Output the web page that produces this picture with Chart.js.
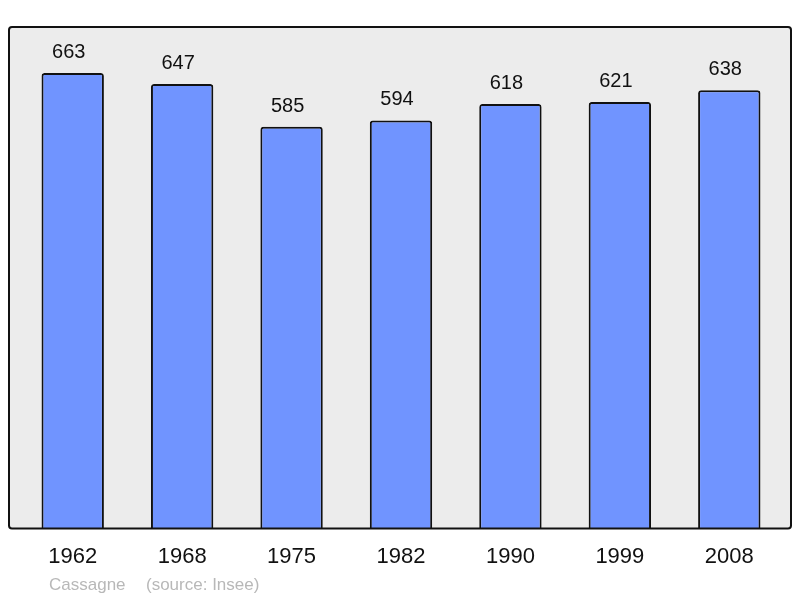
<!DOCTYPE html>
<html>
<head>
<meta charset="utf-8">
<script src="https://cdn.jsdelivr.net/npm/chart.js@4/dist/chart.umd.min.js"></script>
<style>
  html, body { margin: 0; padding: 0; background: #ffffff; }
  #wrap { width: 800px; height: 598px; position: relative; }
</style>
</head>
<body>
<div id="wrap"><canvas id="c" width="800" height="598"></canvas></div>
<script>
const years = ["1962", "1968", "1975", "1982", "1990", "1999", "2008"];
const population = [663, 647, 585, 594, 618, 621, 638];
const captionPlace = "Cassagne";
const captionSource = "(source: Insee)";

const FONT = "'Liberation Sans', Arial, sans-serif";

const framePlugin = {
  id: 'frame',
  beforeDatasetsDraw(chart) {
    const a = chart.chartArea, ctx = chart.ctx;
    ctx.save();
    ctx.beginPath();
    ctx.roundRect(a.left - 9, a.top, (a.right + 7) - (a.left - 9), a.bottom - a.top, 3);
    ctx.fillStyle = '#ececec';
    ctx.fill();
    ctx.restore();
  },
  afterDatasetsDraw(chart) {
    const a = chart.chartArea, ctx = chart.ctx;
    ctx.save();
    ctx.beginPath();
    ctx.roundRect(a.left - 9, a.top, (a.right + 7) - (a.left - 9), a.bottom - a.top, 3);
    ctx.lineWidth = 2;
    ctx.strokeStyle = '#111111';
    ctx.stroke();
    // value labels
    const meta = chart.getDatasetMeta(0);
    ctx.fillStyle = '#111111';
    ctx.font = '20px ' + FONT;
    ctx.textAlign = 'center';
    ctx.textBaseline = 'alphabetic';
    meta.data.forEach((bar, i) => {
      ctx.fillText(String(population[i]), bar.x - 4, bar.y - 15);
    });
    // caption
    ctx.fillStyle = '#b8b8b8';
    ctx.font = '17px ' + FONT;
    ctx.textAlign = 'left';
    ctx.fillText(captionPlace, 49, 590);
    ctx.fillText(captionSource, 146, 590);
    ctx.restore();
  }
};

new Chart(document.getElementById('c'), {
  type: 'bar',
  data: {
    labels: years,
    datasets: [{
      data: population,
      backgroundColor: '#7094ff',
      borderColor: '#111111',
      borderWidth: 2,
      borderRadius: 3,
      borderSkipped: 'bottom',
      categoryPercentage: 1.0,
      barPercentage: 0.57
    }]
  },
  options: {
    responsive: false,
    animation: false,
    devicePixelRatio: 1,
    layout: { padding: { left: 18, right: 16, top: 27, bottom: 13 } },
    plugins: { legend: { display: false }, tooltip: { enabled: false } },
    scales: {
      x: {
        grid: { display: false, drawTicks: false },
        border: { display: false },
        ticks: { color: '#111111', font: { family: FONT, size: 22 }, padding: 15, maxRotation: 0 }
      },
      y: {
        display: false,
        min: 0,
        max: 730
      }
    }
  },
  plugins: [framePlugin]
});
</script>
</body>
</html>
